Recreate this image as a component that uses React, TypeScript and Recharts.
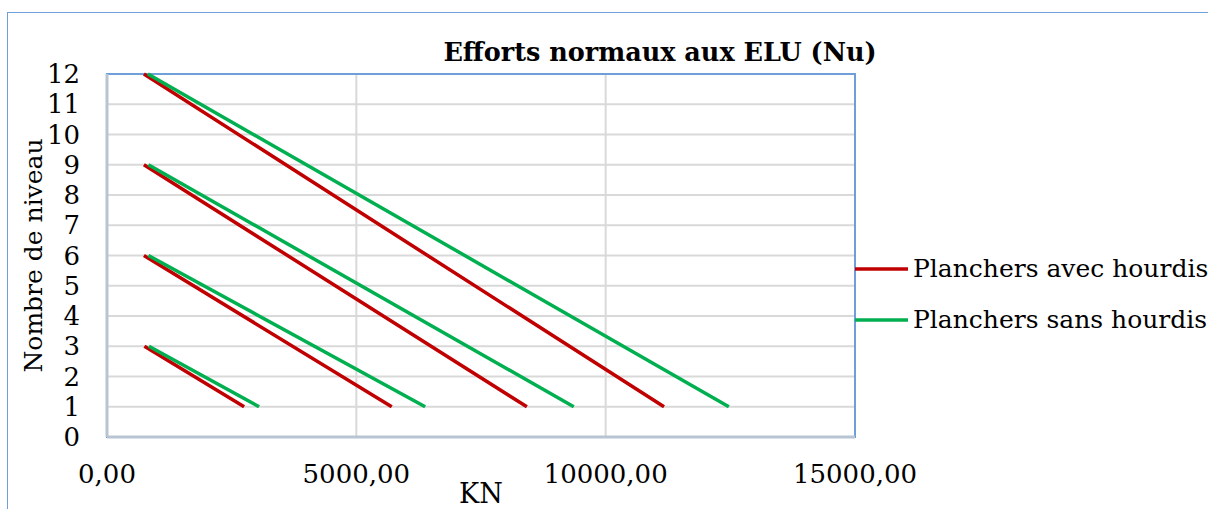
import React from 'react'
import {
  LineChart,
  Line,
  XAxis,
  YAxis,
  CartesianGrid,
  ReferenceArea,
  Legend,
} from 'recharts'

// number of levels of each building (top floor), bottom floor is always level 1
const levels = [3, 6, 9, 12]
// Nu (kN) at the top floor and at level 1, one value per building
const avecTop = [750, 740, 740, 740]
const avecBase = [2750, 5710, 8420, 11170]
const sansTop = [840, 830, 830, 820]
const sansBase = [3050, 6380, 9360, 12470]

const xTicks = [0, 5000, 10000, 15000]
const yTicks = [0, 1, 2, 3, 4, 5, 6, 7, 8, 9, 10, 11, 12]

const FONT = '"DejaVu Serif"'

// one row per point, a null level between buildings breaks the line
function buildSeries(top: number[], base: number[]) {
  const rows: { kn: number; niveau: number | null }[] = []
  levels.forEach((lv, i) => {
    rows.push({ kn: top[i], niveau: lv })
    rows.push({ kn: base[i], niveau: 1 })
    rows.push({ kn: base[i], niveau: null })
  })
  return rows
}

const avecData = buildSeries(avecTop, avecBase)
const sansData = buildSeries(sansTop, sansBase)

const fmt = (v: number) => v.toFixed(2).replace('.', ',')

function LegendBox(props: any) {
  const items = props.payload || []
  return (
    <div style={{ fontFamily: FONT }}>
      {items.map((it: any) => (
        <div
          key={it.value}
          style={{ display: 'flex', alignItems: 'center', height: 51 }}
        >
          <svg width={53} height={4} style={{ display: 'block', flexShrink: 0 }}>
            <line x1={0} y1={2} x2={53} y2={2} stroke={it.color} strokeWidth={3.5} />
          </svg>
          <span style={{ marginLeft: 5, fontSize: 25, lineHeight: '51px', color: '#000', whiteSpace: 'nowrap' }}>
            {it.value}
          </span>
        </div>
      ))}
    </div>
  )
}

function YLabel(props: any) {
  const vb = props.viewBox || { y: 0, height: 0 }
  const cy = vb.y + vb.height / 2
  return (
    <text
      x={34}
      y={cy}
      transform={`rotate(-90, 34, ${cy})`}
      textAnchor="middle"
      fontSize={25}
      fontFamily={FONT}
      fill="#000"
    >
      Nombre de niveau
    </text>
  )
}

export default function App() {
  return (
    <div
      style={{
        position: 'fixed',
        left: 0,
        top: 0,
        width: 1208,
        height: 509,
        overflow: 'hidden',
        background: '#fff',
        fontFamily: FONT,
      }}
    >
      <div
        style={{
          position: 'absolute',
          left: 7,
          top: 12,
          width: 1220,
          height: 520,
          border: '1px solid #6e9fd8',
        }}
      >
        <div
          style={{
            position: 'absolute',
            left: 252,
            top: 24,
            width: 800,
            textAlign: 'center',
            fontSize: 25.5,
            lineHeight: '30px',
            fontWeight: 'bold',
            color: '#000',
            fontFamily: FONT,
          }}
        >
          Efforts normaux aux ELU (Nu)
        </div>
        <LineChart
          width={1200}
          height={500}
          margin={{ top: 61, right: 353, left: 0, bottom: 10 }}
          style={{ fontFamily: FONT }}
        >
          <CartesianGrid stroke="#d9d9d9" strokeWidth={2} />
          <ReferenceArea
            x1={0}
            x2={15000}
            y1={0}
            y2={12}
            fill="none"
            stroke="#6e9fd8"
            strokeWidth={2}
          />
          <XAxis
            type="number"
            dataKey="kn"
            domain={[0, 15000]}
            ticks={xTicks}
            tickFormatter={fmt}
            interval={0}
            height={66}
            tickLine={false}
            tickSize={0}
            tickMargin={28}
            axisLine={{ stroke: '#b8c4d2', strokeWidth: 3 }}
            tick={{ fontSize: 26, fill: '#000', fontFamily: FONT }}
            label={{ value: 'KN', position: 'insideBottom', offset: 0, fontSize: 27, fill: '#000', fontFamily: FONT }}
          />
          <YAxis
            type="number"
            dataKey="niveau"
            domain={[0, 12]}
            ticks={yTicks}
            interval={0}
            width={99}
            tickLine={false}
            tickSize={0}
            tickMargin={27}
            axisLine={{ stroke: '#b8c4d2', strokeWidth: 3 }}
            tick={{ fontSize: 26, fill: '#000', fontFamily: FONT }}
            label={<YLabel />}
          />
          <Legend
            layout="horizontal"
            align="center"
            verticalAlign="middle"
            content={<LegendBox />}
            wrapperStyle={{ left: 847, top: 230, width: 400, height: 102 }}
          />
          <Line
            data={avecData}
            dataKey="niveau"
            name="Planchers avec hourdis"
            stroke="#c00000"
            strokeWidth={3.5}
            dot={false}
            activeDot={false}
            isAnimationActive={false}
          />
          <Line
            data={sansData}
            dataKey="niveau"
            name="Planchers sans hourdis"
            stroke="#00b050"
            strokeWidth={3.5}
            dot={false}
            activeDot={false}
            isAnimationActive={false}
          />
        </LineChart>
      </div>
    </div>
  )
}
